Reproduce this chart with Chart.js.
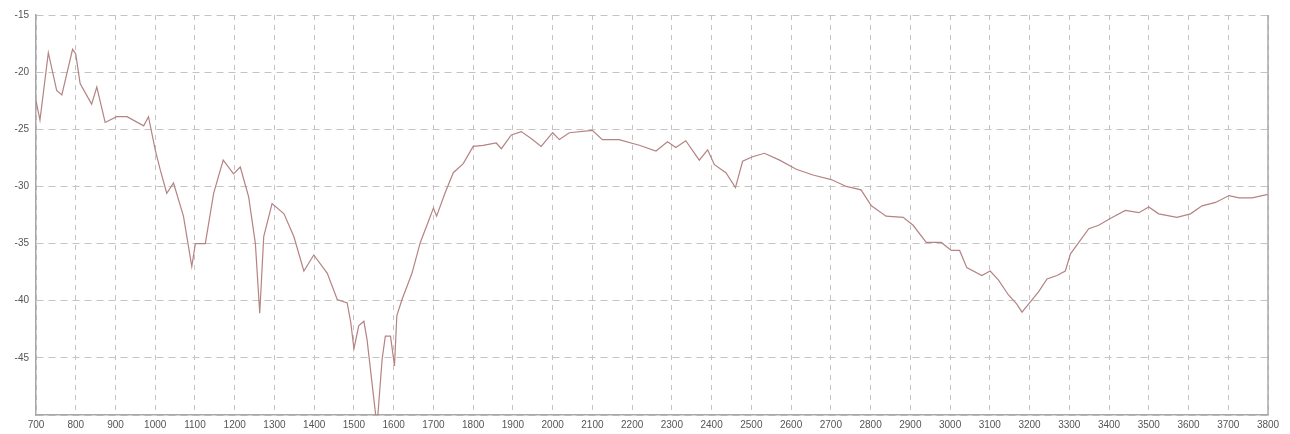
<!DOCTYPE html>
<html>
<head>
<meta charset="utf-8">
<script src="https://cdn.jsdelivr.net/npm/chart.js@4"></script>
<style>
  html, body { margin: 0; padding: 0; background: #fff; }
  #wrap { width: 1290px; height: 434px; position: relative; }
</style>
</head>
<body>
<div id="wrap"><canvas id="spectrum"></canvas></div>
<script>
// wavenumber positions and readings
const xValues = [
  700, 710, 731, 752, 765, 792, 800, 811, 840, 853, 874, 903, 929, 971, 983,
  1000, 1013, 1029, 1046, 1071, 1092, 1101, 1126, 1147, 1171, 1197, 1214, 1235, 1252, 1263,
  1273, 1294, 1324, 1349, 1374, 1399, 1433, 1458, 1483, 1492, 1500, 1512, 1525, 1533, 1558,
  1571, 1579, 1592, 1602, 1608, 1621, 1646, 1667, 1688, 1700, 1708, 1729, 1750, 1775, 1800,
  1825, 1858, 1871, 1896, 1921, 1946, 1971, 2000, 2017, 2042, 2100, 2125, 2167, 2218, 2260,
  2289, 2310, 2335, 2369, 2390, 2407, 2436, 2460, 2478, 2503, 2533, 2571, 2613, 2655, 2701,
  2739, 2776, 2802, 2839, 2882, 2907, 2940, 2978, 3003, 3024, 3042, 3080, 3101, 3122, 3147,
  3168, 3181, 3202, 3223, 3244, 3269, 3290, 3303, 3324, 3349, 3374, 3403, 3441, 3475, 3500,
  3525, 3571, 3605, 3634, 3668, 3702, 3727, 3760, 3800
];
const yValues = [
  -22.5, -24.2, -18.3, -21.6, -22.0, -18.0, -18.4, -21.0, -22.8, -21.3, -24.4, -23.9, -23.9, -24.7, -23.9,
  -26.8, -28.6, -30.6, -29.7, -32.6, -37.0, -35.0, -35.0, -30.6, -27.7, -28.9, -28.3, -30.9, -35.0, -41.1,
  -34.4, -31.5, -32.4, -34.4, -37.4, -36.0, -37.6, -39.9, -40.2, -41.9, -44.2, -42.2, -41.8, -43.4, -51.0,
  -45.1, -43.1, -43.1, -45.7, -41.3, -39.9, -37.6, -34.9, -33.0, -31.9, -32.6, -30.6, -28.8, -28.0, -26.5,
  -26.4, -26.2, -26.7, -25.5, -25.2, -25.8, -26.5, -25.3, -25.9, -25.3, -25.1, -25.9, -25.9, -26.4, -26.9,
  -26.1, -26.6, -26.0, -27.7, -26.8, -28.1, -28.8, -30.1, -27.8, -27.4, -27.1, -27.7, -28.5, -29.0, -29.4,
  -30.0, -30.3, -31.7, -32.6, -32.7, -33.4, -34.9, -34.9, -35.6, -35.6, -37.1, -37.8, -37.4, -38.2, -39.5,
  -40.3, -41.0, -40.1, -39.2, -38.1, -37.8, -37.4, -35.9, -34.9, -33.7, -33.4, -32.8, -32.1, -32.3, -31.8,
  -32.4, -32.7, -32.4, -31.7, -31.4, -30.8, -31.0, -31.0, -30.7
];

// axis ranges
const xMin = 700, xMax = 3800, xStep = 100;
const yMin = -50, yMax = -15, yStep = 5;

const points = xValues.map((x, i) => ({ x: x, y: yValues[i] }));

// solid frame line on the right side of the plot
const rightEdge = {
  id: 'rightEdge',
  afterDraw(chart) {
    const { ctx, chartArea } = chart;
    ctx.save();
    ctx.strokeStyle = '#a8a8a8';
    ctx.lineWidth = 1.5;
    ctx.beginPath();
    ctx.moveTo(chartArea.right, chartArea.top);
    ctx.lineTo(chartArea.right, chartArea.bottom);
    ctx.stroke();
    ctx.restore();
  }
};

new Chart(document.getElementById('spectrum'), {
  type: 'line',
  data: {
    datasets: [{
      data: points,
      borderColor: '#b58383',
      borderWidth: 1.2,
      pointRadius: 0,
      tension: 0,
      fill: false
    }]
  },
  options: {
    responsive: true,
    maintainAspectRatio: false,
    animation: false,
    layout: { padding: { top: 15, right: 22, left: 0, bottom: 0 } },
    plugins: {
      legend: { display: false },
      tooltip: { enabled: false }
    },
    scales: {
      x: {
        type: 'linear',
        min: xMin,
        max: xMax,
        afterFit: (scale) => { scale.height = 19; },
        ticks: {
          stepSize: xStep,
          autoSkip: false,
          maxRotation: 0,
          padding: 4,
          color: '#555',
          font: { family: 'Liberation Sans', size: 10 },
          callback: (v) => String(v)
        },
        grid: { color: '#c4c4c4', lineWidth: 1, drawTicks: false },
        border: { display: true, color: '#a8a8a8', width: 1.5, dash: [5, 5] }
      },
      y: {
        min: yMin,
        max: yMax,
        afterFit: (scale) => { scale.width = 36; },
        ticks: {
          stepSize: yStep,
          padding: 7,
          color: '#555',
          font: { family: 'Liberation Sans', size: 10 },
          callback: (v) => (v === yMin ? '' : String(v))
        },
        grid: { color: '#c4c4c4', lineWidth: 1, drawTicks: false },
        border: { display: true, color: '#a8a8a8', width: 1.5, dash: [7, 5] }
      }
    }
  },
  plugins: [rightEdge]
});
</script>
</body>
</html>
